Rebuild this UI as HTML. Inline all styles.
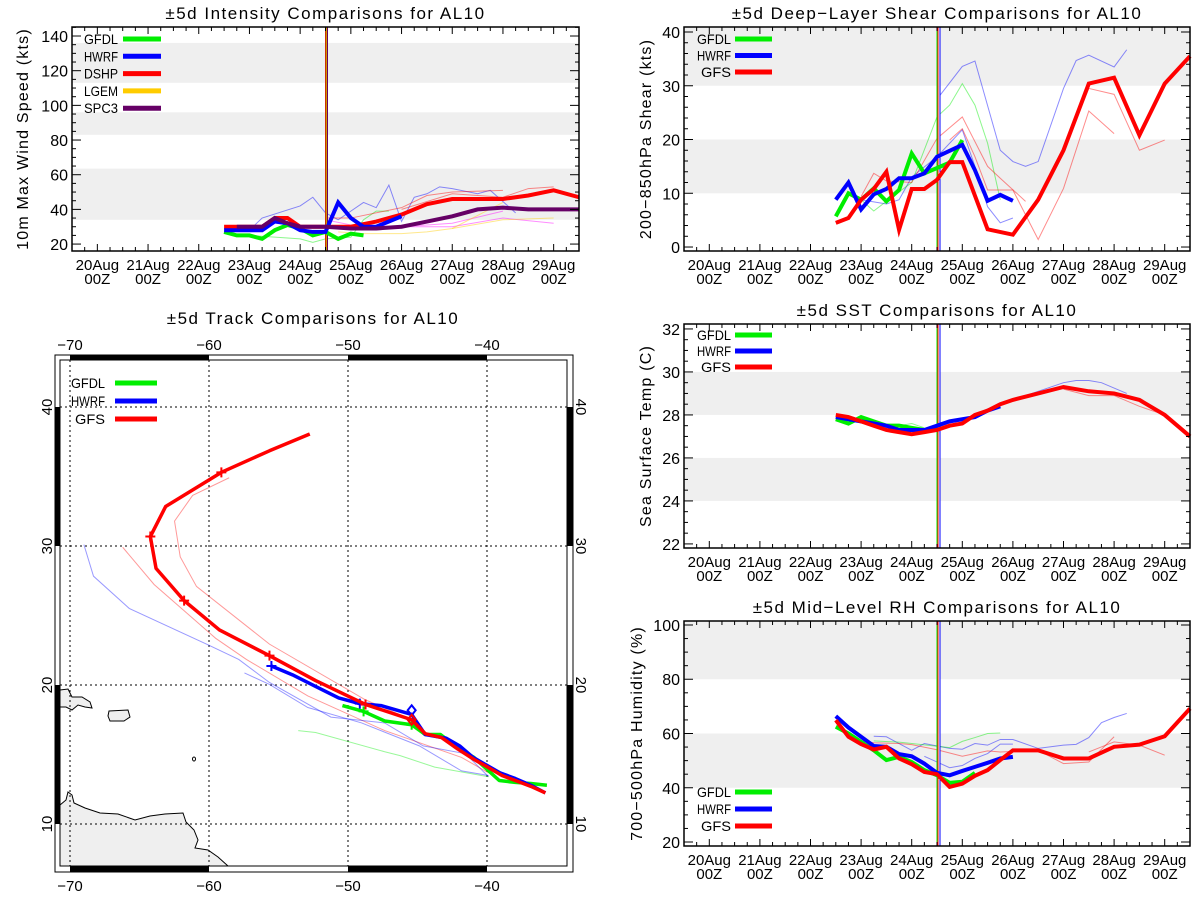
<!DOCTYPE html>
<html><head><meta charset="utf-8"><style>
body{margin:0;background:#fff}
svg{display:block}
text{font-family:"Liberation Sans",sans-serif;fill:#000}
</style></head><body>
<svg id="fig" width="1200" height="900" viewBox="0 0 1200 900" xmlns="http://www.w3.org/2000/svg"></svg>
<script>
// ---------- category / tick data ----------
const dayLabels = ["20Aug","21Aug","22Aug","23Aug","24Aug","25Aug","26Aug","27Aug","28Aug","29Aug"];
const initDay = 4.5;
const intTicks = [20,40,60,80,100,120,140];
const shearTicks = [0,10,20,30,40];
const sstTicks = [22,24,26,28,30,32];
const rhTicks = [20,40,60,80,100];
const lonTicks = [-70,-60,-50,-40];
const latTicks = [10,20,30,40];

// ---------- intensity data ----------
const dshpDays = [2.5,2.75,3,3.25,3.5,3.75,4,4.25,4.5,5,5.5,6,6.5,7,7.5,8,8.5,9,9.5];
const dshpVals = [30,30,30,30,35,35,30,30,30,30,33,37,43,46,46,46,48,51,47];
const spc3Days = [2.75,3,3.25,3.5,3.75,4,4.25,4.5,5,5.5,6,6.5,7,7.5,8,8.5,9,9.5];
const spc3Vals = [30,30,30,35,32,30,30,30,29,29,30,33,36,40,41,40,40,40];
const hwrfIntDays = [2.5,2.75,3,3.25,3.5,3.75,4,4.25,4.5,4.75,5,5.25,5.5,5.75,6];
const hwrfIntVals = [28,28,28,28,33,32,28,27,27,44,35,30,30,33,36];
const gfdlIntDays = [2.5,2.75,3,3.25,3.5,3.75,4,4.25,4.5,4.75,5,5.25];
const gfdlIntVals = [27,25,25,23,28,31,29,25,27,23,26,25];
const oldHwrfIntDays = [3,3.25,4,4.25,4.5,4.75,5,5.25,5.5,5.75,6,6.25,6.5,6.75,7,7.5,7.75,8.25];
const oldHwrfIntVals = [28,35,42,47,38,34,39,44,41,54,33,47,49,53,52,49,51,38];
const oldGfdlIntDays = [3,3.5,4,4.25,4.5,5,5.25,5.5,5.75];
const oldGfdlIntVals = [25,24,23,21,23,24,34,39,39];
const oldDshpIntDays = [4.5,5,6,6.5,7,8];
const oldDshpIntVals = [35,35,41,48,50,51];
const oldDshp2IntDays = [6,7,8,8.5,9];
const oldDshp2IntVals = [40,49,47,52,53];
const oldSpcIntDays = [4.5,5,6,7,8];
const oldSpcIntVals = [34,31,30,32,39];
const oldSpc2IntDays = [6,7,8,9];
const oldSpc2IntVals = [30,30,35,32];
const oldLgemIntDays = [4.75,5.25,6,6.5,7,8];
const oldLgemIntVals = [27,26,26,27,29,44];
const oldLgem2IntDays = [7,8,9];
const oldLgem2IntVals = [29,34,35];

// ---------- shear data ----------
const gfsShDays = [2.5,2.75,3,3.25,3.5,3.75,4,4.25,4.5,4.75,5,5.5,6,6.5,7,7.5,8,8.5,9,9.5];
const gfsShVals = [4.5,5.4,8.8,10.8,14,3.2,10.8,10.8,12.5,15.8,15.8,3.3,2.3,8.8,18,30.4,31.5,20.8,30.4,35.5];
const hwrfShDays = [2.5,2.75,3,3.25,3.5,3.75,4,4.25,4.5,5,5.25,5.5,5.75,6];
const hwrfShVals = [8.8,12,7,9.8,10.8,12.8,12.8,13.7,16.8,19,14.3,8.6,9.7,8.6];
const gfdlShDays = [2.5,2.75,3,3.25,3.5,3.75,4,4.25,4.5,4.75,5];
const gfdlShVals = [5.7,10,8.8,10.9,8.5,10.6,17.4,13.7,14.7,15.7,19.9];
const oldHwrfShDays = [4.5,5,5.25,5.75,6,6.25,6.5,7,7.25,7.5,8,8.25];
const oldHwrfShVals = [27.5,33.6,34.6,18,15.9,15,15.9,29.5,34.7,35.7,33.5,36.7];
const oldHwrf2ShDays = [3,3.5,3.75,4,4.5,5,5.25,5.5,5.75,6];
const oldHwrf2ShVals = [8.8,8,8.8,13,16.8,21.8,15,7.5,4.5,5.4];
const oldGfdlShDays = [3,3.25,3.5,4,4.5,4.75,5,5.25,5.5,5.75];
const oldGfdlShVals = [8.8,6.7,8.5,12,24.2,26.4,30.4,26.4,19.3,8.8];
const oldGfsShDays = [3,3.25,3.5,4,4.5,5,5.5,5.75,6.25];
const oldGfsShVals = [9.4,13.7,12.3,12,20.2,24.2,15,12.8,8.5];
const oldGfs2ShDays = [4.75,5,5.25,5.5,5.75,6,6.5,7,7.5,8];
const oldGfs2ShVals = [19.9,22,16.8,10.6,10.6,10.6,1.4,10.9,25.3,21.1];
const oldGfs3ShDays = [7,7.5,8,8.5,9];
const oldGfs3ShVals = [18,29.5,28.4,18,19.9];

// ---------- SST data ----------
const gfsSstDays = [2.5,2.75,3,3.25,3.5,3.75,4,4.25,4.5,4.75,5,5.25,5.5,5.75,6,6.5,7,7.5,8,8.5,9,9.5];
const gfsSstVals = [28.0,27.9,27.7,27.5,27.3,27.2,27.1,27.2,27.3,27.5,27.6,28.0,28.2,28.5,28.7,29.0,29.3,29.1,29.0,28.7,28.0,27.0];
const hwrfSstDays = [2.5,2.75,3,3.25,3.5,3.75,4,4.25,4.5,4.75,5,5.25,5.5,5.75];
const hwrfSstVals = [27.9,27.8,27.7,27.6,27.5,27.3,27.3,27.3,27.5,27.7,27.8,27.9,28.2,28.4];
const gfdlSstDays = [2.5,2.75,3,3.25,3.5,3.75,4,4.25,4.5];
const gfdlSstVals = [27.8,27.6,27.9,27.7,27.5,27.5,27.4,27.3,27.3];
const oldHwrfSstDays = [6,6.5,7,7.25,7.5,7.75,8.25];
const oldHwrfSstVals = [28.7,29.1,29.5,29.6,29.6,29.5,29.0];
const oldGfsSstDays = [7,7.5,8,8.5,9];
const oldGfsSstVals = [29.2,28.9,28.9,28.4,28.0];
const oldGfdlSstDays = [3.75,4,4.25];
const oldGfdlSstVals = [27.5,27.6,27.4];

// ---------- RH data ----------
const gfsRhDays = [2.5,2.75,3,3.25,3.5,3.75,4,4.25,4.5,4.75,5,5.25,5.5,5.75,6,6.5,7,7.5,8,8.5,9,9.5];
const gfsRhVals = [64.9,58.8,56.1,54.1,55.1,50.8,48.7,45.8,45,40.3,41.5,44.4,46.5,50.2,53.8,53.8,50.8,50.8,55.1,55.9,59,69.2];
const hwrfRhDays = [2.5,2.75,3,3.25,3.5,3.75,4,4.25,4.5,4.75,5,5.25,5.5,5.75,6];
const hwrfRhVals = [66.4,62.2,58.8,55.4,55.1,52.4,51.6,48.9,45.5,44.6,46.2,47.7,49.2,50.8,51.4];
const gfdlRhDays = [2.5,2.75,3,3.25,3.5,3.75,4,4.25,4.5,4.75,5,5.25];
const gfdlRhVals = [62.5,60,56.9,53.8,50.2,51.4,49.5,46.5,44.6,41.8,42.2,45.5];
const oldHwrfRhDays = [3.25,3.5,4,4.25,4.75,5,5.25,5.5,5.75,6,6.5,7,7.25,7.5,7.75,8,8.25];
const oldHwrfRhVals = [59,58.8,53.8,56.3,54.5,54.2,56.3,55.7,57.8,57.8,54.5,55.7,56,58.5,64,65.9,67.4];
const oldHwrf2RhDays = [4.25,4.75,5,5.25,5.5,5.75,6];
const oldHwrf2RhVals = [51.6,47.4,48.2,50.8,52.6,56.1,56.1];
const oldGfdlRhDays = [3.25,3.75,4.25,4.75,5,5.25,5.5,5.75];
const oldGfdlRhVals = [57.3,56.8,55.8,54.8,57.1,58.5,60,60.2];
const oldGfsRhDays = [3,3.25,3.75,4,4.5,5,5.5,5.75,6.5,7,7.5,8];
const oldGfsRhVals = [57.3,56.6,56.3,55.9,54,51.6,53.6,53.2,53.8,48.9,49.5,58.8];
const oldGfs2RhDays = [7.5,8,8.5,9];
const oldGfs2RhVals = [53.2,56.9,55.7,52];

// ---------- track data (lon, lat) ----------
const gfsTrackLon = [-35.8,-36.85,-37.96,-38.92,-39.95,-40.94,-42.1,-43.27,-44.45,-45.42,-48.74,-52.33,-55.65,-59.25,-61.79,-63.81,-64.22,-63.12,-59.11,-55.65,-52.75];
const gfsTrackLat = [12.24,12.71,13.13,13.49,14.09,14.65,15.39,16.22,16.5,17.5,18.6,20.32,22.11,23.96,26.07,28.39,30.68,32.84,35.3,36.85,38.06];
const gfsMarkIdx = [10,12,14,16,18];
const hwrfTrackLon = [-35.8,-36.85,-37.96,-39.06,-40.03,-41,-41.97,-42.93,-44.45,-45.42,-47.63,-49.15,-50.67,-52.33,-53.99,-55.51];
const hwrfTrackLat = [12.24,12.79,13.27,13.68,14.23,14.79,15.62,16.17,16.44,17.88,18.52,18.66,19.07,19.9,20.73,21.37];
const hwrfMarkIdx = [11,15];
const gfdlTrackLon = [-35.69,-36.85,-37.96,-39.12,-40.03,-40.94,-42.1,-43.35,-44.45,-45.42,-47.36,-48.88,-50.4];
const gfdlTrackLat = [12.79,12.91,12.99,13.13,13.96,14.79,15.48,16.44,16.44,17.14,17.41,18.1,18.52];
const gfdlMarkIdx = [9,11];
const oldGfsTrackLon = [-58.55,-61.18,-62.48,-62.07,-60.9,-55.65,-48.74,-45.42];
const oldGfsTrackLat = [34.91,33.64,31.79,29.22,27.09,22.94,18.93,17.5];
const oldGfs2TrackLon = [-66.21,-63.95,-59.52,-57.31,-52.89,-47.36,-41.83,-39.89];
const oldGfs2TrackLat = [29.91,27.23,23.36,21.84,19.21,16.72,14.79,13.68];
const oldHwrfTrackLon = [-69,-68.31,-65.74,-60.07,-57.86,-55.65,-51.23,-47.36,-44.59,-41.55,-39.89];
const oldHwrfTrackLat = [30.1,27.83,25.51,22.89,21.84,20.18,17.69,17.27,15.62,15.06,13.4];
const oldHwrf2TrackLon = [-57.45,-55.65,-52.89,-49.02,-44.87,-41.83,-39.89];
const oldHwrf2TrackLat = [20.87,20.04,18.38,17.27,15.62,13.82,13.49];
const oldGfdlTrackLon = [-53.58,-52.33,-47.36,-46.25,-43.76,-39.89];
const oldGfdlTrackLat = [16.72,16.58,15.2,14.92,14.09,13.4];

// ---------- drawing ----------
const NS="http://www.w3.org/2000/svg";
const svg=document.getElementById('fig');
function el(tag,attrs,parent){const e=document.createElementNS(NS,tag);for(const k in attrs)e.setAttribute(k,attrs[k]);(parent||svg).appendChild(e);return e;}
function txt(s,attrs,parent){const t=el('text',attrs,parent);t.textContent=s;return t;}

const GREEN="#00ee00",BLUE="#0000ff",RED="#ff0000",YEL="#ffcc00",PURP="#660066";
const TITLE={'font-size':17,'letter-spacing':1.5};
function legLen(n){return n.length>=4?34:30;}

function timePanel(name,cfg){
  const g=el('g',{});
  
  
  const X=d=>cfg.x0+(d+0.5)*(cfg.x1-cfg.x0)/10;
  const Y=v=>cfg.y1-(v-cfg.vmin)*(cfg.y1-cfg.y0)/(cfg.vmax-cfg.vmin);
  cfg.bands.forEach(b=>{
    const r=el('rect',{x:cfg.x0,y:Y(Math.min(b[1],cfg.vmax)),width:cfg.x1-cfg.x0,height:Y(b[0])-Y(Math.min(b[1],cfg.vmax)),fill:'#efefef'},g);
    
    
  });
  const t=txt(cfg.title,Object.assign({x:(cfg.x0+cfg.x1)/2,y:cfg.y0-8,'text-anchor':'middle'},TITLE),g);
  
  
  const yt=txt(cfg.ytitle,{transform:`translate(${cfg.ytx},${(cfg.y0+cfg.y1)/2}) rotate(-90)`,'text-anchor':'middle','font-size':16,'letter-spacing':1.2},g);
  
  
  cfg.faint.forEach(f=>{
    const p=el('polyline',{points:f.d.map((d,i)=>X(d)+','+Y(f.v[i])).join(' '),fill:'none',stroke:f.c,'stroke-width':1,opacity:0.45},g);
    
    
  });
  cfg.vcol.forEach((c,i)=>{
    const l=el('line',{x1:X(initDay)+i,x2:X(initDay)+i,y1:cfg.y0,y2:cfg.y1,stroke:c,'stroke-width':1},g);
    
    
  });
  cfg.series.forEach(s=>{
    const p=el('polyline',{points:s.d.map((d,i)=>X(d)+','+Y(s.v[i])).join(' '),fill:'none',stroke:s.c,'stroke-width':4,'stroke-linejoin':'miter'},g);
    
    
  });
  const bx=el('rect',{x:cfg.x0,y:cfg.y0,width:cfg.x1-cfg.x0,height:cfg.y1-cfg.y0,fill:'none',stroke:'#000','stroke-width':1.5},g);
  
  
  for(let k=-2;k<=38;k++){
    const d=k*0.25; if(d<-0.5||d>9.5)continue;
    const len=(k%4===0)?7:4;
    el('line',{x1:X(d),x2:X(d),y1:cfg.y1,y2:cfg.y1-len,stroke:'#000'},g);
    el('line',{x1:X(d),x2:X(d),y1:cfg.y0,y2:cfg.y0+len,stroke:'#000'},g);
  }
  dayLabels.forEach((lab,i)=>{
    const a=txt(lab,{x:X(i),y:cfg.y1+19,'text-anchor':'middle','font-size':15},g);
    
    
    const b=txt('00Z',{x:X(i),y:cfg.y1+33,'text-anchor':'middle','font-size':15},g);
    
    
  });
  for(let v=Math.ceil(cfg.vmin/cfg.minor)*cfg.minor;v<=cfg.vmax;v+=cfg.minor){
    const maj=Math.abs(v/cfg.major-Math.round(v/cfg.major))<1e-6;
    const len=maj?9:4;
    el('line',{x1:cfg.x0,x2:cfg.x0+len,y1:Y(v),y2:Y(v),stroke:'#000'},g);
    el('line',{x1:cfg.x1,x2:cfg.x1-len,y1:Y(v),y2:Y(v),stroke:'#000'},g);
  }
  cfg.ticks.forEach(v=>{
    const a=txt(String(v),{x:cfg.x0-4,y:Y(v)+6,'text-anchor':'end','font-size':16},g);
    
    
  });
  cfg.legend.forEach((e,i)=>{
    const y=cfg.ly+i*cfg.lstep;
    const lt=txt(e.n,{x:cfg.lanchor==='end'?cfg.lx-3:cfg.lx,y:y+5,'text-anchor':cfg.lanchor,'font-size':14,textLength:legLen(e.n),lengthAdjust:'spacingAndGlyphs'},g);
    
    
    const ll=el('line',{x1:cfg.llx0,x2:cfg.llx1,y1:y,y2:y,stroke:e.c,'stroke-width':5},g);
    
    
  });
}

const R=[684,1190];
timePanel('intensity-chart',{x0:72,x1:579,y0:27,y1:251,vmin:16,vmax:145.2,major:20,minor:5,ticks:intTicks,
  bands:[[34,63.5],[83,96],[113,136]],title:'±5d Intensity Comparisons for AL10',ytitle:'10m Max Wind Speed (kts)',ytx:28,
  vcol:['#cc3300','#cc9900',PURP],
  faint:[{d:oldHwrfIntDays,v:oldHwrfIntVals,c:BLUE},{d:oldGfdlIntDays,v:oldGfdlIntVals,c:GREEN},{d:oldDshpIntDays,v:oldDshpIntVals,c:RED},{d:oldDshp2IntDays,v:oldDshp2IntVals,c:RED},{d:oldSpcIntDays,v:oldSpcIntVals,c:'#ff00ff'},{d:oldSpc2IntDays,v:oldSpc2IntVals,c:'#ff00ff'},{d:oldLgemIntDays,v:oldLgemIntVals,c:YEL},{d:oldLgem2IntDays,v:oldLgem2IntVals,c:YEL}],
  series:[{n:'gfdl',d:gfdlIntDays,v:gfdlIntVals,c:GREEN},{n:'dshp',d:dshpDays,v:dshpVals,c:RED},{n:'hwrf',d:hwrfIntDays,v:hwrfIntVals,c:BLUE},{n:'spc3',d:spc3Days,v:spc3Vals,c:PURP}],
  legend:[{n:'GFDL',c:GREEN},{n:'HWRF',c:BLUE},{n:'DSHP',c:RED},{n:'LGEM',c:YEL},{n:'SPC3',c:PURP}],lx:84,lanchor:'start',llx0:123,llx1:161,ly:39,lstep:17.3});
timePanel('shear-chart',{x0:R[0],x1:R[1],y0:27,y1:251,vmin:-0.74,vmax:40.93,major:10,minor:2,ticks:shearTicks,
  bands:[[10,20],[30,41]],title:'±5d Deep−Layer Shear Comparisons for AL10',ytitle:'200−850hPa Shear (kts)',ytx:651,
  vcol:[GREEN,RED,'#ffffff',BLUE],
  faint:[{d:oldHwrfShDays,v:oldHwrfShVals,c:BLUE},{d:oldHwrf2ShDays,v:oldHwrf2ShVals,c:BLUE},{d:oldGfdlShDays,v:oldGfdlShVals,c:GREEN},{d:oldGfsShDays,v:oldGfsShVals,c:RED},{d:oldGfs2ShDays,v:oldGfs2ShVals,c:RED},{d:oldGfs3ShDays,v:oldGfs3ShVals,c:RED}],
  series:[{n:'gfdl',d:gfdlShDays,v:gfdlShVals,c:GREEN},{n:'hwrf',d:hwrfShDays,v:hwrfShVals,c:BLUE},{n:'gfs',d:gfsShDays,v:gfsShVals,c:RED}],
  legend:[{n:'GFDL',c:GREEN},{n:'HWRF',c:BLUE},{n:'GFS',c:RED}],lx:734,lanchor:'end',llx0:735,llx1:772,ly:39,lstep:16.5});
timePanel('sst-chart',{x0:R[0],x1:R[1],y0:324,y1:548,vmin:21.81,vmax:32.23,major:2,minor:0.5,ticks:sstTicks,
  bands:[[24,26],[28,30]],title:'±5d SST Comparisons for AL10',ytitle:'Sea Surface Temp (C)',ytx:651,
  vcol:[GREEN,RED,'#ffffff',BLUE],
  faint:[{d:oldHwrfSstDays,v:oldHwrfSstVals,c:BLUE},{d:oldGfsSstDays,v:oldGfsSstVals,c:RED},{d:oldGfdlSstDays,v:oldGfdlSstVals,c:GREEN}],
  series:[{n:'gfdl',d:gfdlSstDays,v:gfdlSstVals,c:GREEN},{n:'hwrf',d:hwrfSstDays,v:hwrfSstVals,c:BLUE},{n:'gfs',d:gfsSstDays,v:gfsSstVals,c:RED}],
  legend:[{n:'GFDL',c:GREEN},{n:'HWRF',c:BLUE},{n:'GFS',c:RED}],lx:734,lanchor:'end',llx0:735,llx1:772,ly:335,lstep:16});
timePanel('rh-chart',{x0:R[0],x1:R[1],y0:621,y1:846,vmin:18.53,vmax:101.47,major:20,minor:5,ticks:rhTicks,
  bands:[[40,60],[80,101.47]],title:'±5d Mid−Level RH Comparisons for AL10',ytitle:'700−500hPa Humidity (%)',ytx:642,
  vcol:[GREEN,RED,'#ffffff',BLUE],
  faint:[{d:oldHwrfRhDays,v:oldHwrfRhVals,c:BLUE},{d:oldHwrf2RhDays,v:oldHwrf2RhVals,c:BLUE},{d:oldGfdlRhDays,v:oldGfdlRhVals,c:GREEN},{d:oldGfsRhDays,v:oldGfsRhVals,c:RED},{d:oldGfs2RhDays,v:oldGfs2RhVals,c:RED}],
  series:[{n:'gfdl',d:gfdlRhDays,v:gfdlRhVals,c:GREEN},{n:'hwrf',d:hwrfRhDays,v:hwrfRhVals,c:BLUE},{n:'gfs',d:gfsRhDays,v:gfsRhVals,c:RED}],
  legend:[{n:'GFDL',c:GREEN},{n:'HWRF',c:BLUE},{n:'GFS',c:RED}],lx:734,lanchor:'end',llx0:735,llx1:772,ly:792,lstep:17});

// ---------- track map ----------
(function(){
  const g=el('g',{});
  
  
  const LX=lon=>70+(lon+70)*13.9;
  const LY=lat=>407-(lat-40)*13.9;
  const ix0=60,ix1=567,iy0=360,iy1=866;
  const t=txt('±5d Track Comparisons for AL10',Object.assign({x:313,y:324,'text-anchor':'middle'},TITLE),g);
  
  
  const defs=el('defs',{},g);
  const cp=el('clipPath',{id:'mapclip'},defs);
  el('rect',{x:ix0,y:iy0,width:ix1-ix0,height:iy1-iy0},cp);
  const m=el('g',{'clip-path':'url(#mapclip)'},g);
  const land=[
    [[60,805],[66,800],[68,792],[72,795],[74,803],[85,808],[100,813],[118,814],[135,820],[150,816],[165,814],[183,813],[186,822],[194,830],[198,840],[195,848],[208,850],[218,857],[228,866],[60,866]],
    [[60,690],[68,689],[72,697],[82,697],[90,702],[92,708],[85,707],[78,705],[72,710],[66,707],[60,707]],
    [[109,711],[128,710],[130,717],[124,721],[110,721],[108,716]]
  ];
  land.forEach(p=>{
    const pl=el('polygon',{points:p.map(q=>q.join(',')).join(' '),fill:'#efefef',stroke:'#000','stroke-width':1},m);
    
    
  });
  el('ellipse',{cx:194,cy:759,rx:1.5,ry:2,fill:'none',stroke:'#000'},m);
  lonTicks.forEach(lon=>{el('line',{x1:LX(lon),x2:LX(lon),y1:iy0,y2:iy1,stroke:'#000','stroke-dasharray':'2,3'},m);});
  latTicks.forEach(lat=>{el('line',{x1:ix0,x2:ix1,y1:LY(lat),y2:LY(lat),stroke:'#000','stroke-dasharray':'2,3'},m);});
  const faint=[[oldGfsTrackLon,oldGfsTrackLat,RED],[oldGfs2TrackLon,oldGfs2TrackLat,RED],[oldHwrfTrackLon,oldHwrfTrackLat,BLUE],[oldHwrf2TrackLon,oldHwrf2TrackLat,BLUE],[oldGfdlTrackLon,oldGfdlTrackLat,GREEN]];
  faint.forEach(f=>{
    const p=el('polyline',{points:f[0].map((lo,i)=>LX(lo)+','+LY(f[1][i])).join(' '),fill:'none',stroke:f[2],'stroke-width':1,opacity:0.4},m);
    
    
  });
  const tracks=[['gfdl',gfdlTrackLon,gfdlTrackLat,gfdlMarkIdx,GREEN],['hwrf',hwrfTrackLon,hwrfTrackLat,hwrfMarkIdx,BLUE],['gfs',gfsTrackLon,gfsTrackLat,gfsMarkIdx,RED]];
  tracks.forEach(tr=>{
    const p=el('polyline',{points:tr[1].map((lo,i)=>LX(lo)+','+LY(tr[2][i])).join(' '),fill:'none',stroke:tr[4],'stroke-width':3.5,'stroke-linejoin':'round'},m);
    
    
    tr[3].forEach(i=>{
      const x=LX(tr[1][i]),y=LY(tr[2][i]);
      el('path',{d:`M${x-5},${y}H${x+5}M${x},${y-5}V${y+5}`,stroke:tr[4],'stroke-width':2},m);
    });
  });
  [[hwrfTrackLon[9],hwrfTrackLat[9]+0.3,BLUE],[gfsTrackLon[9],gfsTrackLat[9],RED]].forEach(d=>{
    const x=LX(d[0]),y=LY(d[1]);
    el('path',{d:`M${x},${y-5}L${x+4},${y}L${x},${y+5}L${x-4},${y}Z`,fill:'none',stroke:d[2],'stroke-width':2},m);
  });
  el('rect',{x:55,y:355,width:518,height:517,fill:'none',stroke:'#000'},g);
  el('rect',{x:ix0,y:iy0,width:ix1-ix0,height:iy1-iy0,fill:'none',stroke:'#000'},g);
  [[-70,-60],[-50,-40]].forEach(s=>{
    el('rect',{x:LX(s[0]),y:355,width:LX(s[1])-LX(s[0]),height:5,fill:'#000'},g);
    el('rect',{x:LX(s[0]),y:866,width:LX(s[1])-LX(s[0]),height:6,fill:'#000'},g);
  });
  [[40,30],[20,10]].forEach(s=>{
    el('rect',{x:55,y:LY(s[0]),width:5,height:LY(s[1])-LY(s[0]),fill:'#000'},g);
    el('rect',{x:567,y:LY(s[0]),width:6,height:LY(s[1])-LY(s[0]),fill:'#000'},g);
  });
  lonTicks.forEach(lon=>{
    const a=txt('−'+Math.abs(lon),{x:LX(lon),y:350,'text-anchor':'middle','font-size':15},g);
    
    
    const b=txt('−'+Math.abs(lon),{x:LX(lon),y:891,'text-anchor':'middle','font-size':15},g);
    
    
  });
  latTicks.forEach(lat=>{
    const a=txt(String(lat),{transform:`translate(52,${LY(lat)}) rotate(-90)`,'text-anchor':'middle','font-size':15},g);
    
    
    const b=txt(String(lat),{transform:`translate(576,${LY(lat)}) rotate(90)`,'text-anchor':'middle','font-size':15},g);
    
    
  });
  [['GFDL',GREEN,383],['HWRF',BLUE,401],['GFS',RED,419]].forEach(e=>{
    const lt=txt(e[0],{x:105,y:e[2]+5,'text-anchor':'end','font-size':14,textLength:legLen(e[0]),lengthAdjust:'spacingAndGlyphs'},g);
    
    
    const ll=el('line',{x1:115,x2:157,y1:e[2],y2:e[2],stroke:e[1],'stroke-width':5},g);
    
    
  });
})();
</script>
</body></html>
